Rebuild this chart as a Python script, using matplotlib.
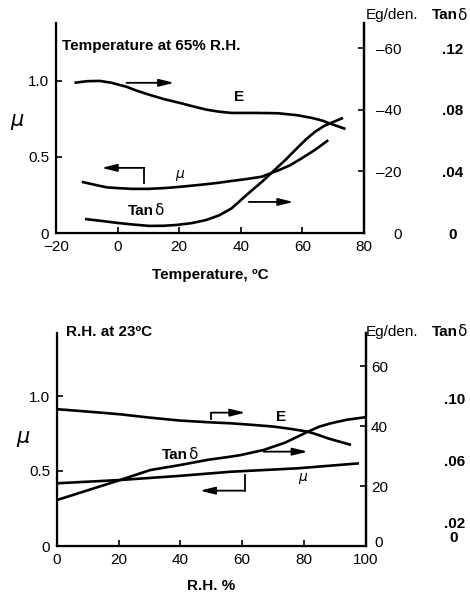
import matplotlib
matplotlib.use("Agg")
import matplotlib.pyplot as plt

plt.rcParams['font.family'] = ['Liberation Sans', 'DejaVu Sans']
plt.rcParams['axes.unicode_minus'] = True

# ---- Temperature series (65% R.H.) ----
temp_E_x = [-14, -10, -5.8, -2, 2.9, 6, 10.3, 15, 20, 25, 28.7, 33, 37, 45, 52, 58, 63, 66.5, 69.4, 74]
temp_E = [48.8, 49.3, 49.4, 48.8, 47.5, 46.3, 44.9, 43.5, 42.3, 41.0, 40.1, 39.4, 39.0, 39.0, 38.9, 38.3, 37.4, 36.5, 35.4, 33.8]

temp_mu_x = [-11.6, -7, -3.5, 0, 4.8, 10, 15.8, 21, 26.5, 32, 37, 42, 46.8, 52, 56, 59.7, 64, 68.4]
temp_mu = [0.336, 0.315, 0.300, 0.295, 0.290, 0.290, 0.296, 0.305, 0.316, 0.328, 0.342, 0.355, 0.370, 0.410, 0.445, 0.490, 0.545, 0.610]

temp_tan_x = [-10.6, -5, -0.3, 5, 10.3, 15, 19, 24, 28.7, 33, 37, 42.6, 47, 51, 54.5, 57.7, 61, 64, 67, 69.4, 73.2]
temp_tan = [0.0091, 0.0078, 0.0066, 0.0055, 0.0046, 0.0047, 0.0052, 0.0064, 0.0084, 0.0115, 0.0160,
            0.0260, 0.0335, 0.0410, 0.0475, 0.0540, 0.0605, 0.0656, 0.0695, 0.0716, 0.0748]

# ---- Relative humidity series (23 C) ----
rh_E_x = [0, 10, 20.5, 30, 40, 50, 56.3, 63, 70.3, 76, 81.3, 84.5, 87.8, 91.5, 95.3]
rh_E = [45.6, 44.8, 43.9, 42.8, 41.8, 41.2, 40.9, 40.4, 39.8, 39.0, 38.1, 37.1, 35.9, 34.8, 33.7]

rh_mu_x = [0, 20.5, 40, 56.3, 78, 97.9]
rh_mu = [0.418, 0.440, 0.468, 0.495, 0.518, 0.551]

rh_tan_x = [0, 20.5, 30.2, 40, 48.8, 56.3, 59.5, 67, 74, 81.3, 85, 88.8, 94, 100]
rh_tan = [0.0346, 0.0476, 0.0540, 0.0573, 0.0606, 0.0627, 0.0637, 0.0670, 0.0718, 0.0788,
          0.0821, 0.0843, 0.0866, 0.0882]

temp_xticks = [-20, 0, 20, 40, 60, 80]
rh_xticks = [0, 20, 40, 60, 80, 100]
mu_ticks = [0, 0.5, 1.0]
mu_ticklabels = ['0', '0.5', '1.0']
eg_ticks = [0, 20, 40, 60]
temp_eg_labels = ['0', '\u201320', '\u201340', '\u201360']
rh_eg_labels = ['', '20', '40', '60']
temp_tan_ticks = [0, 0.04, 0.08, 0.12]
temp_tan_labels = ['0', '.04', '.08', '.12']
rh_tan_ticks = [0.02, 0.06, 0.10]
rh_tan_labels = ['.02', '.06', '.10']

LW = 1.9
FS = 11

fig = plt.figure(figsize=(4.70, 5.98), dpi=100)


def style_axes(ax, twin, tan_ax):
    for a in (ax, twin, tan_ax):
        a.spines['top'].set_visible(False)
    for s in ['left', 'bottom', 'right']:
        ax.spines[s].set_linewidth(1.6)
        tan_ax.spines[s].set_visible(False)
    twin.spines['right'].set_linewidth(1.6)
    ax.tick_params(direction='in', length=4, width=1.2, labelsize=FS, pad=5)
    twin.tick_params(direction='in', length=4, width=1.2, labelsize=FS, pad=5)


def arrow(ax, x0, y0, x1, y1):
    ax.annotate('', xy=(x1, y1), xytext=(x0, y0),
                arrowprops=dict(arrowstyle='-|>,head_length=0.9,head_width=0.22',
                                lw=1.3, color='black', shrinkA=0, shrinkB=0))


# ================= Top panel: temperature =================
ax1 = fig.add_axes([56 / 470, 1 - 233 / 598, 308 / 470, 210 / 598])
ax1b = ax1.twinx()
ax1c = ax1.twinx()
style_axes(ax1, ax1b, ax1c)

ax1.set_xlim(-20, 80)
ax1.set_ylim(0, 1.38)
ax1b.set_ylim(0, 1.38 * 152 / 3.075)
ax1c.set_ylim(0, 1.38 * 152 / 3.075 / 500)

ax1.set_xticks(temp_xticks)
ax1.set_yticks(mu_ticks)
ax1.set_yticklabels(mu_ticklabels)
ax1b.set_yticks(eg_ticks)
ax1b.set_yticklabels(temp_eg_labels, ha='right')
ax1b.tick_params(pad=27)
ax1c.set_yticks(temp_tan_ticks)
ax1c.set_yticklabels(temp_tan_labels, fontweight='bold', ha='center')
ax1c.tick_params(length=0, labelsize=FS, pad=64)

ax1b.plot(temp_E_x, temp_E, color='black', lw=LW, solid_capstyle='butt')
ax1.plot(temp_mu_x, temp_mu, color='black', lw=LW, solid_capstyle='butt')
ax1c.plot(temp_tan_x, temp_tan, color='black', lw=LW, solid_capstyle='butt')

ax1.text(-18, 1.23, 'Temperature at 65% R.H.', fontsize=FS, fontweight='bold', va='center')
ax1.text(39.4, 0.895, 'E', fontsize=FS, fontweight='bold', ha='center', va='center')
ax1.text(20, 0.385, '\u03bc', fontsize=10, fontstyle='italic', ha='center', va='center',
         family=['DejaVu Sans'])
ax1.text(11.9, 0.145, 'Tan', fontsize=FS, fontweight='bold', ha='right', va='center')
ax1.text(12.0, 0.145, '\u03b4', fontsize=FS, ha='left', va='center', family=['DejaVu Sans'])

arrow(ax1, 2.9, 0.987, 18.4, 0.987)
ax1.plot([8.7, 8.7], [0.33, 0.428], color='black', lw=1.3)
arrow(ax1, 8.7, 0.428, -5.2, 0.428)
arrow(ax1, 42.6, 0.204, 57.1, 0.204)

ax1.set_xlabel('Temperature, \u00baC', fontsize=FS, fontweight='bold', labelpad=10)
ax1.text(-0.127, 0.54, '\u03bc', transform=ax1.transAxes, fontsize=15, fontstyle='italic',
         ha='center', va='center', family=['DejaVu Sans'])

# ================= Bottom panel: relative humidity =================
ax2 = fig.add_axes([57 / 470, 1 - 546 / 598, 308.5 / 470, 213 / 598])
ax2b = ax2.twinx()
ax2c = ax2.twinx()
style_axes(ax2, ax2b, ax2c)

ax2.set_xlim(0, 100)
ax2.set_ylim(0, 1.42)
ax2b.set_ylim(0, 71)
ax2c.set_ylim(2.5 / 515, (71 + 2.5) / 515)

ax2.set_xticks(rh_xticks)
ax2.set_yticks(mu_ticks)
ax2.set_yticklabels(mu_ticklabels)
ax2b.set_yticks(eg_ticks)
ax2b.set_yticklabels(rh_eg_labels)
ax2b.tick_params(pad=4)
# zero of the Eg/den. scale, lifted clear of the "100" x label
ax2b.text(1.03, 1.0, '0', transform=ax2b.get_yaxis_transform(), fontsize=FS,
          ha='left', va='center')
ax2c.set_yticks(rh_tan_ticks)
ax2c.set_yticklabels(rh_tan_labels, fontweight='bold', ha='center')
ax2c.tick_params(length=0, labelsize=FS, pad=64)
ax2c.text(1.285, 0.037, '0', transform=ax2c.transAxes, fontsize=FS, fontweight='bold',
          ha='center', va='center')

ax2b.plot(rh_E_x, rh_E, color='black', lw=LW, solid_capstyle='butt')
ax2.plot(rh_mu_x, rh_mu, color='black', lw=LW, solid_capstyle='butt')
ax2c.plot(rh_tan_x, rh_tan, color='black', lw=LW, solid_capstyle='butt')

ax2.text(3, 1.43, 'R.H. at 23\u00baC', fontsize=FS, fontweight='bold', va='center')
ax2.text(72.5, 0.862, 'E', fontsize=FS, fontweight='bold', ha='center', va='center')
ax2.text(79.6, 0.462, '\u03bc', fontsize=10, fontstyle='italic', ha='center', va='center',
         family=['DejaVu Sans'])
ax2.text(42.5, 0.607, 'Tan', fontsize=FS, fontweight='bold', ha='right', va='center')
ax2.text(42.6, 0.607, '\u03b4', fontsize=FS, ha='left', va='center', family=['DejaVu Sans'])

ax2.plot([50, 50], [0.847, 0.889], color='black', lw=1.3)
arrow(ax2, 50, 0.889, 61.1, 0.889)
arrow(ax2, 67, 0.629, 81.3, 0.629)
ax2.plot([60.8, 60.8], [0.473, 0.369], color='black', lw=1.3)
arrow(ax2, 60.8, 0.369, 46.3, 0.369)

ax2.set_xlabel('R.H. %', fontsize=FS, fontweight='bold', labelpad=9)
ax2.text(-0.11, 0.51, '\u03bc', transform=ax2.transAxes, fontsize=15, fontstyle='italic',
         ha='center', va='center', family=['DejaVu Sans'])

# Right-hand axis headers
for ypix in (15, 332):
    fig.text(366 / 470, 1 - ypix / 598, 'Eg/den.', fontsize=FS, ha='left', va='center')
    fig.text(432 / 470, 1 - ypix / 598, 'Tan', fontsize=FS, fontweight='bold', ha='left', va='center')
    fig.text(457.5 / 470, 1 - ypix / 598, '\u03b4', fontsize=FS, ha='left', va='center',
             family=['DejaVu Sans'])

fig.savefig('out.png', dpi=100)
